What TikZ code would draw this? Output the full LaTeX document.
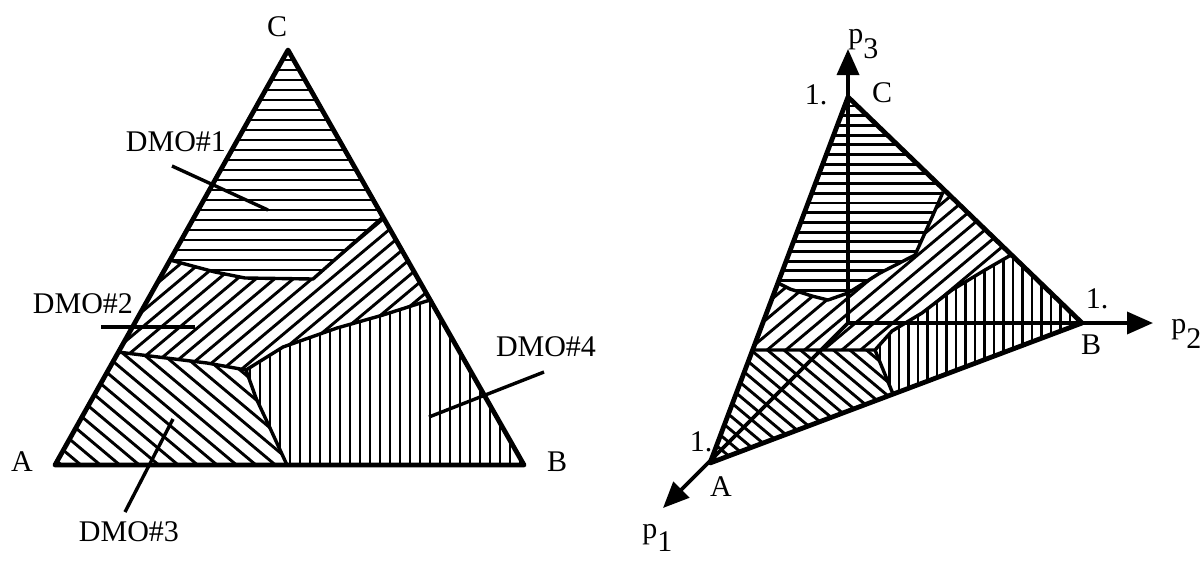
\documentclass[tikz,border=0pt]{standalone}
\usepackage{fontspec}
\setmainfont{Liberation Serif}
\usetikzlibrary{arrows.meta}

\tikzset{
    side/.style={line width=2.4pt, line join=round},
    bound/.style={line width=1.7pt, line join=round},
    hatch/.style={line width=1.45pt},
    leader/.style={line width=1.7pt},
    axis/.style={line width=1.8pt, -{Triangle[length=13pt, width=11pt]}},
    lab/.style={font=\fontsize{15}{18}\selectfont, inner sep=0pt},
}

\begin{document}
\begin{tikzpicture}[x=0.5pt, y=-0.5pt]
    \useasboundingbox (0,0) rectangle (1203,563);

    % ---- Left: regions on the triangle ----
    \coordinate (A) at (55,465);
    \coordinate (B) at (524,465);
    \coordinate (C) at (288,50);
    \coordinate (J) at (246,370);

    % DMO#1 / DMO#2
    \coordinate (u1) at (170,260);
    \coordinate (u2) at (215,272);
    \coordinate (u3) at (245,278);
    \coordinate (u4) at (313,279);
    \coordinate (u5) at (383,217);
    % DMO#2 / DMO#4
    \coordinate (v1) at (283,347);
    \coordinate (v2) at (337,328);
    \coordinate (v3) at (383,315);
    \coordinate (v4) at (430,300);
    % DMO#2 / DMO#3
    \coordinate (w1) at (118,352);
    \coordinate (w2) at (150,356);
    \coordinate (w3) at (207,363);
    % DMO#3 / DMO#4
    \coordinate (z1) at (256,398);
    \coordinate (z2) at (270,428);
    \coordinate (z3) at (287,465);

    % Hatching
    \begin{scope}
        \clip (C) -- (u5) -- (u4) -- (u3) -- (u2) -- (u1) -- cycle;
        \foreach \k in {0,...,24}
            \draw[hatch] (40,60+10*\k) -- (540,60+10*\k);
    \end{scope}
    \begin{scope}
        \clip (u1) -- (u2) -- (u3) -- (u4) -- (u5) -- (v4) -- (v3) -- (v2)
            -- (v1) -- (J) -- (w3) -- (w2) -- (w1) -- cycle;
        \begin{scope}[shift={(274,295)}, rotate=40]
            \foreach \k in {-16,...,16}
                \draw[hatch] (-260,12*\k) -- (260,12*\k);
        \end{scope}
    \end{scope}
    \begin{scope}
        \clip (w1) -- (w2) -- (w3) -- (J) -- (z1) -- (z2) -- (z3) -- (A) -- cycle;
        \begin{scope}[shift={(171,410)}, rotate=-40]
            \foreach \k in {-12,...,12}
                \draw[hatch] (-200,12.5*\k) -- (200,12.5*\k);
        \end{scope}
    \end{scope}
    \begin{scope}
        \clip (J) -- (v1) -- (v2) -- (v3) -- (v4) -- (B) -- (z3) -- (z2) -- (z1) -- cycle;
        \foreach \x in {250,260,...,520}
            \draw[hatch] (\x,280) -- (\x,470);
    \end{scope}

    % Borders
    \draw[bound] (u1) -- (u2) -- (u3) -- (u4) -- (u5);
    \draw[bound] (w1) -- (w2) -- (w3) -- (J) -- (v1) -- (v2) -- (v3) -- (v4);
    \draw[bound] (J) -- (z1) -- (z2) -- (z3);
    \draw[side] (A) -- (B) -- (C) -- cycle;

    % Labels
    \node[lab] (labA) at (22,462) {A};
    \node[lab] (labB) at (557,462) {B};
    \node[lab] (labC) at (277,27) {C};

    \node[lab] (dmo1) at (176,142) {DMO\#1};
    \node[lab] (dmo2) at (83,304) {DMO\#2};
    \node[lab] (dmo3) at (129,532) {DMO\#3};
    \node[lab] (dmo4) at (546,347) {DMO\#4};
    \coordinate (in1) at (268,210);
    \coordinate (in2) at (195,327);
    \coordinate (in3) at (173,419);
    \coordinate (in4) at (429,417);
    \draw[leader] ([shift={(-4,24)}]dmo1.center) -- (in1);
    \draw[leader] ([shift={(18,23)}]dmo2.center) -- (in2);
    \draw[leader] ([shift={(-4,-20)}]dmo3.center) -- (in3);
    \draw[leader] ([shift={(-2,25)}]dmo4.center) -- (in4);

    % ---- Right: the same regions in p-space ----
    \coordinate (O) at (848,323);
    \coordinate (A2) at (710,463);
    \coordinate (B2) at (1082,323);
    \coordinate (C2) at (848,97);
    \coordinate (tip1) at (663,508);
    \coordinate (tip2) at (1153,323);
    \coordinate (tip3) at (848,49);

    % DMO#1 / DMO#2
    \coordinate (r1) at (778,283);
    \coordinate (r2) at (790,289);
    \coordinate (r3) at (812,296);
    \coordinate (r4) at (828,300);
    \coordinate (r5) at (848,293);
    \coordinate (r6) at (880,273);
    \coordinate (r7) at (915,255);
    \coordinate (r8) at (933,215);
    \coordinate (r9) at (943,192);
    % DMO#2 / DMO#4
    \coordinate (s1) at (875,350);
    \coordinate (s2) at (892,331);
    \coordinate (s3) at (922,313);
    \coordinate (s4) at (952,290);
    \coordinate (s5) at (985,270);
    \coordinate (s6) at (1011,255);
    % DMO#2 / DMO#3 and DMO#3 / DMO#4
    \coordinate (t1) at (752,350);
    \coordinate (t2) at (893,394);

    % Hatching
    \begin{scope}
        \clip (C2) -- (r9) -- (r8) -- (r7) -- (r6) -- (r5) -- (r4) -- (r3)
            -- (r2) -- (r1) -- cycle;
        \foreach \k in {0,...,21}
            \draw[hatch] (700,106+9.7*\k) -- (1000,106+9.7*\k);
    \end{scope}
    \begin{scope}
        \clip (r1) -- (r2) -- (r3) -- (r4) -- (r5) -- (r6) -- (r7) -- (r8)
            -- (r9) -- (s6) -- (s5) -- (s4) -- (s3) -- (s2) -- (s1) -- (t1) -- cycle;
        \begin{scope}[shift={(880,271)}, rotate=40]
            \foreach \k in {-15,...,15}
                \draw[hatch] (-220,12*\k) -- (220,12*\k);
        \end{scope}
    \end{scope}
    \begin{scope}
        \clip (t1) -- (s1) -- (t2) -- (A2) -- cycle;
        \begin{scope}[shift={(800,405)}, rotate=-40]
            \foreach \k in {-12,...,12}
                \draw[hatch] (-160,10.6*\k) -- (160,10.6*\k);
        \end{scope}
    \end{scope}
    \begin{scope}
        \clip (s1) -- (s2) -- (s3) -- (s4) -- (s5) -- (s6) -- (B2) -- (t2) -- cycle;
        \foreach \x in {880,889.5,...,1080}
            \draw[hatch] (\x,240) -- (\x,400);
    \end{scope}

    % Borders
    \draw[bound] (r1) -- (r2) -- (r3) -- (r4) -- (r5) -- (r6) -- (r7) -- (r8) -- (r9);
    \draw[bound] (t1) -- (s1) -- (s2) -- (s3) -- (s4) -- (s5) -- (s6);
    \draw[bound] (s1) -- (t2);
    \draw[side] (A2) -- (B2) -- (C2) -- cycle;

    % Axes
    \draw[axis] (O) -- (tip1);
    \draw[axis] (O) -- (tip2);
    \draw[axis] (O) -- (tip3);

    % Labels
    \node[lab] (one3) at (816,95) {1.};
    \node[lab] (labC2) at (882,93) {C};
    \node[lab] (one2) at (1097,299) {1.};
    \node[lab] (labB2) at (1091,345) {B};
    \node[lab] (one1) at (701,442) {1.};
    \node[lab] (labA2) at (721,487) {A};
    \node[lab, anchor=base west] (p3) at (848,43) {p\raisebox{-1.1ex}{3}};
    \node[lab, anchor=base west] (p2) at (1171,333) {p\raisebox{-1.1ex}{2}};
    \node[lab, anchor=base west] (p1) at (642,538) {p\raisebox{-1.0ex}{1}};
\end{tikzpicture}
\end{document}
